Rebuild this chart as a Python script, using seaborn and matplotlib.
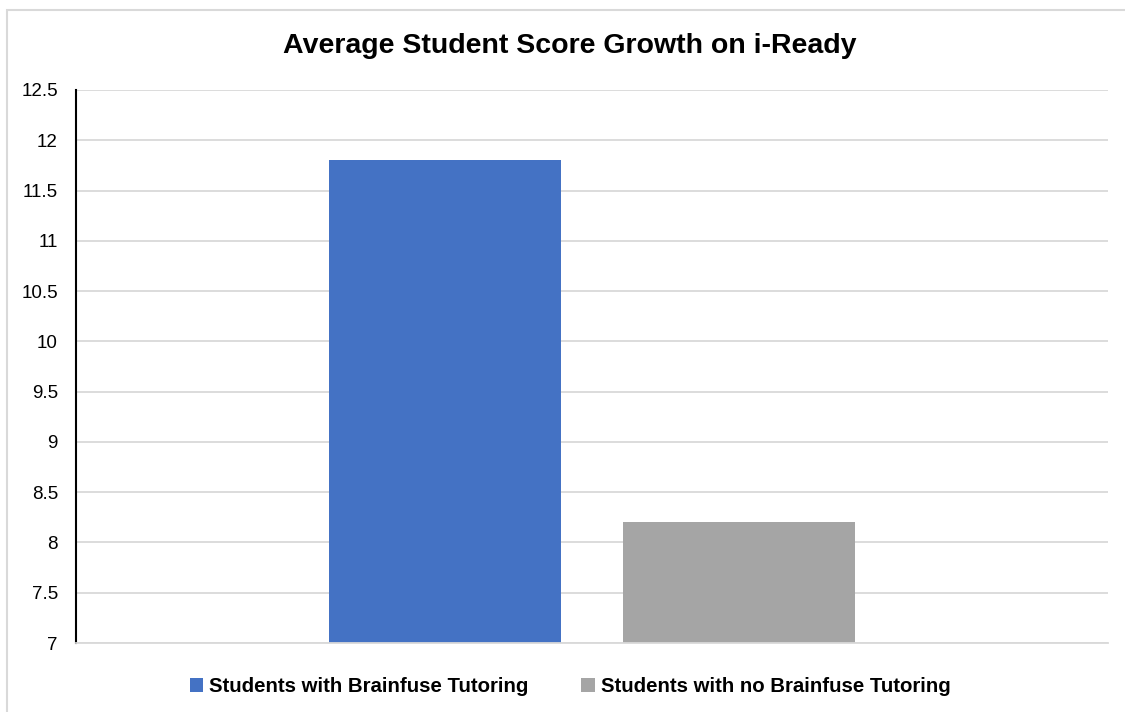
import pandas as pd
import matplotlib.pyplot as plt
import seaborn as sns
from matplotlib.patches import Rectangle, Patch

# values
groups = ["Students with Brainfuse Tutoring", "Students with no Brainfuse Tutoring"]
growth = [11.8, 8.2]
category = ["i-Ready"]
bar_colors = ["#4472C4", "#A5A5A5"]
y_ticks = [7, 7.5, 8, 8.5, 9, 9.5, 10, 10.5, 11, 11.5, 12, 12.5]
y_labels = ["7", "7.5", "8", "8.5", "9", "9.5", "10", "10.5", "11", "11.5", "12", "12.5"]

df = pd.DataFrame({"cat": category * len(groups), "group": groups, "growth": growth})

sns.set_style("white")
plt.rcParams["font.family"] = ["Liberation Sans", "DejaVu Sans"]
plt.rcParams["text.color"] = "black"
plt.rcParams["ytick.color"] = "black"

fig = plt.figure(figsize=(11.25, 7.12), dpi=100)
ax = fig.add_axes([0.0676, 0.0969, 0.9173, 0.7767])

sns.barplot(data=df, x="cat", y="growth", hue="group", palette=bar_colors,
            width=0.569, gap=0.21, saturation=1, linewidth=0, ax=ax, legend=False)

ax.set_xlim(-0.5, 0.5)
ax.set_ylim(7, 12.5)
ax.set_yticks(y_ticks)
ax.set_yticklabels(y_labels, fontsize=13.5, color="black")
ax.set_xticks([])
ax.set_xlabel("")
ax.set_ylabel("")
ax.tick_params(axis="y", length=0, pad=13)
ax.yaxis.grid(True, color="#D9D9D9", linewidth=1.3)
ax.set_axisbelow(True)
for s in ["top", "right"]:
    ax.spines[s].set_visible(False)
ax.spines["left"].set_color("black")
ax.spines["left"].set_linewidth(1.5)
ax.spines["bottom"].set_color("#D9D9D9")
ax.spines["bottom"].set_linewidth(1.3)

# title
fig.text(0.5066, 0.935, "Average Student Score Growth on i-Ready", ha="center", va="center",
         fontsize=20.5, fontweight="bold", color="black")

# legend at bottom
handles = [Patch(facecolor=c, edgecolor="none") for c in bar_colors]
leg = fig.legend(handles, groups, loc="center", bbox_to_anchor=(0.5067, 0.036), ncol=2,
                 frameon=False, handlelength=0.65, handleheight=0.65, handletextpad=0.3,
                 columnspacing=2.6, prop={"family": ["Liberation Sans"],
                                          "weight": "bold", "size": 14.7})
for t in leg.get_texts():
    t.set_color("black")

# outer chart border
fig.patches.append(Rectangle((7 / 1125, -0.01), 1.02, 1 - 10 / 712 + 0.01,
                             transform=fig.transFigure, fill=False,
                             edgecolor="#D9D9D9", linewidth=1.5))

fig.savefig("out.png", dpi=100)
